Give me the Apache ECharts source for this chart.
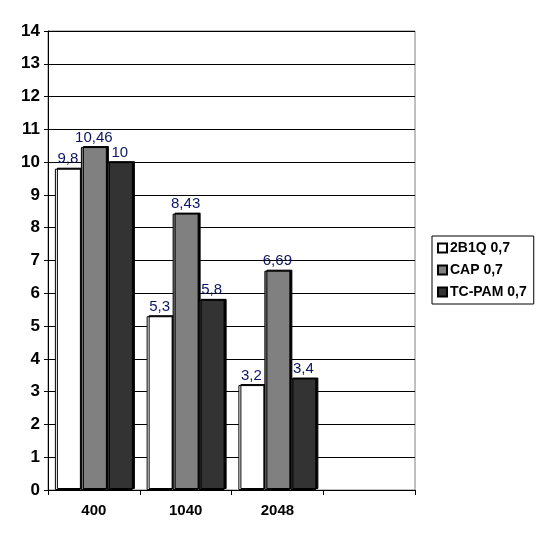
<!DOCTYPE html>
<html><head><meta charset="utf-8">
<script src="https://cdn.jsdelivr.net/npm/echarts@6/dist/echarts.min.js"></script>
<style>html,body{margin:0;padding:0;background:#fff}#c{width:542px;height:542px}</style>
</head><body><div id="c"></div>
<script>
var categories = ['400', '1040', '2048', ''];
var seriesNames = ['2B1Q 0,7', 'CAP 0,7', 'TC-PAM 0,7'];
var v2B1Q = [9.8, 5.3, 3.2, null];
var vCAP = [10.46, 8.43, 6.69, null];
var vTCPAM = [10, 5.8, 3.4, null];
var yTicks = [0, 14, 1];
var colors = ['#ffffff', '#808080', '#333333'];

var chart = echarts.init(document.getElementById('c'), null, {renderer: 'canvas'});
function mk(name, data, color) {
  return {
    name: name, type: 'bar', data: data,
    barGap: '0%', barCategoryGap: '15%',
    itemStyle: {color: color, borderColor: '#000', borderWidth: 1,
      shadowColor: '#000', shadowOffsetX: 2, shadowOffsetY: -1, shadowBlur: 0},
    label: {show: true, position: 'top', distance: 2, color: '#0d1560',
      fontFamily: 'Arial, Liberation Sans', fontSize: 15,
      formatter: function (p) { return String(p.value).replace('.', ','); }}
  };
}
chart.setOption({
  animation: false,
  backgroundColor: '#fff',
  grid: {left: 48, right: 127, top: 31, bottom: 52, show: true, borderColor: '#808080', borderWidth: 1, backgroundColor: 'transparent'},
  legend: {
    orient: 'vertical', left: 432, top: 236,
    data: seriesNames,
    itemWidth: 9, itemHeight: 9, itemGap: 8,
    padding: [5, 7, 5, 5],
    borderColor: '#000', borderWidth: 1,
    textStyle: {fontFamily: 'Arial, Liberation Sans', fontWeight: 'bold', fontSize: 14, color: '#000', padding: [0, 0, 0, -2]},
    icon: 'rect'
  },
  xAxis: {
    type: 'category', data: categories,
    axisLine: {lineStyle: {color: '#000', width: 1}},
    axisTick: {show: true, length: 5, lineStyle: {color: '#000'}, alignWithLabel: false},
    axisLabel: {fontFamily: 'Arial, Liberation Sans', fontWeight: 'bold', fontSize: 15, color: '#000', margin: 13}
  },
  yAxis: {
    type: 'value', min: yTicks[0], max: yTicks[1], interval: yTicks[2],
    axisLine: {show: true, lineStyle: {color: '#000', width: 1}},
    axisTick: {show: true, length: 4, lineStyle: {color: '#000'}},
    axisLabel: {fontFamily: 'Arial, Liberation Sans', fontWeight: 'bold', fontSize: 17, color: '#000', margin: 8},
    splitLine: {show: true, lineStyle: {color: '#000', width: 1}}
  },
  series: [mk(seriesNames[0], v2B1Q, colors[0]), mk(seriesNames[1], vCAP, colors[1]), mk(seriesNames[2], vTCPAM, colors[2])]
});
</script></body></html>
